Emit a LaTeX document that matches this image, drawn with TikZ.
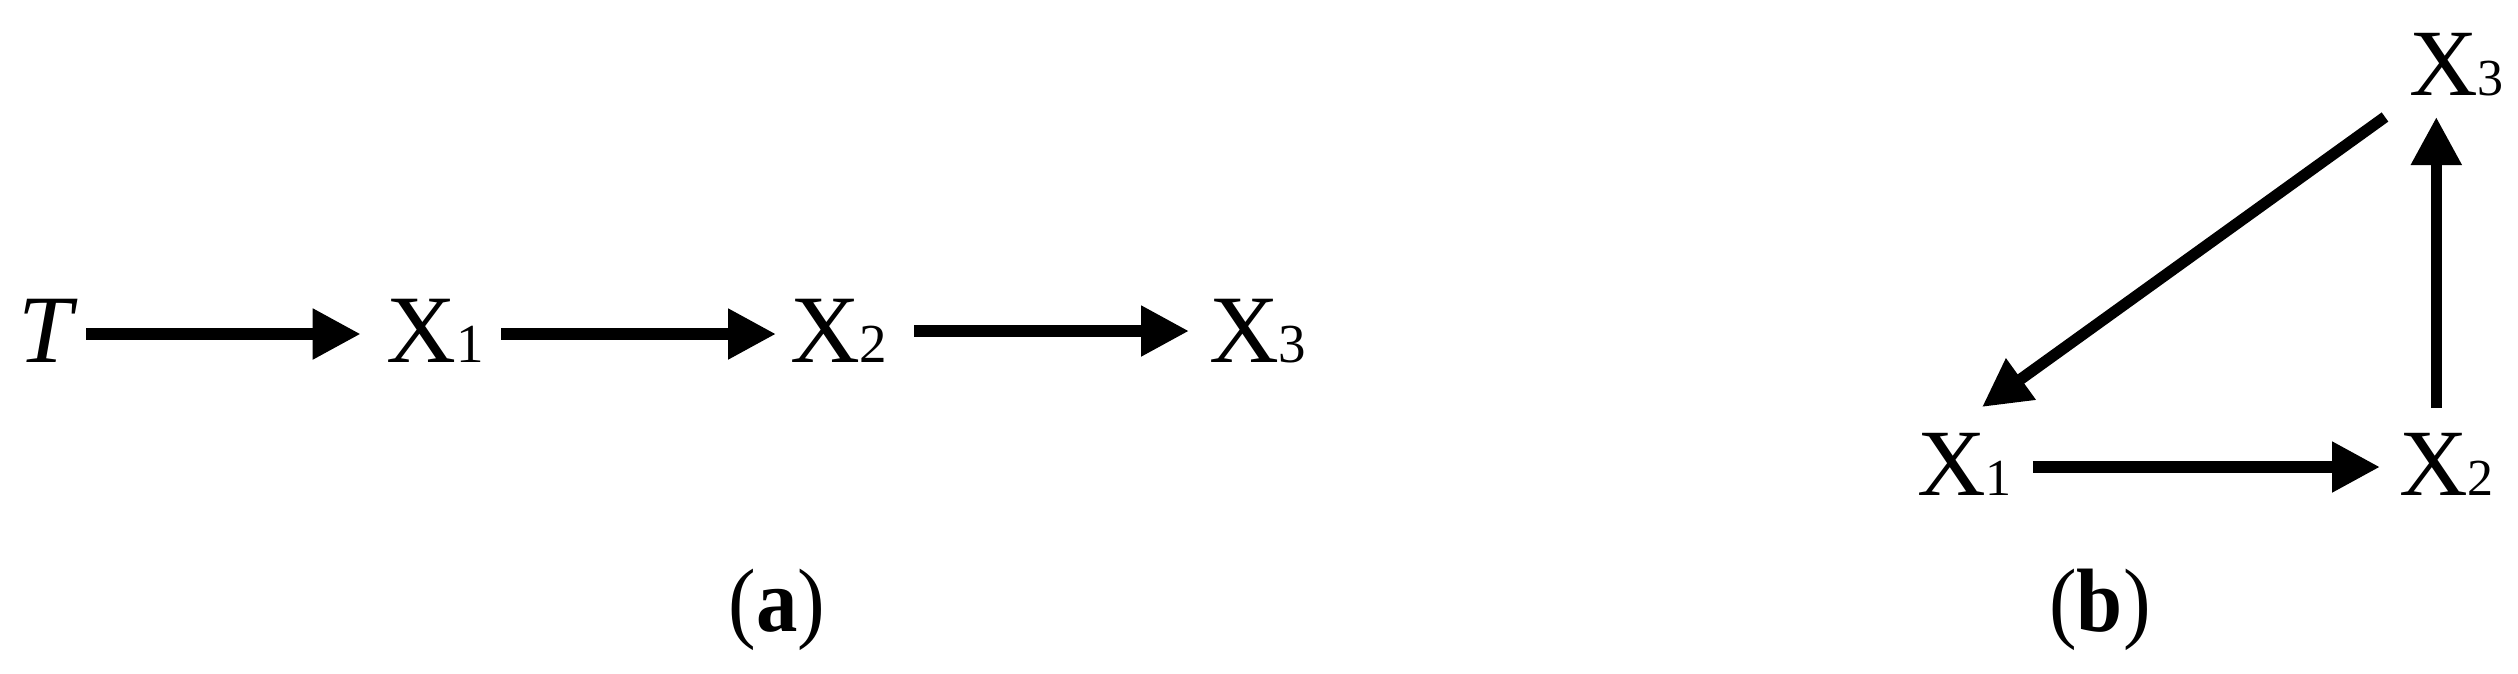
\documentclass[tikz,border=0pt]{standalone}
\usepackage{fontspec}
\setmainfont{Liberation Serif}
\usetikzlibrary{arrows.meta}
\newcommand\varA[1]{{\fontsize{29}{29}\selectfont X\fontsize{16.5}{16.5}\selectfont #1}}
\newcommand\varB[1]{{\fontsize{28.5}{28.5}\selectfont X\fontsize{15.6}{15.6}\selectfont #1}}
\newcommand\capt[1]{\scalebox{0.92}[1]{\fontsize{27}{27}\selectfont(\textbf{#1})}}
\begin{document}
\begin{tikzpicture}[x=0.3pt,y=-0.3pt,
  lbl/.style={inner sep=0pt,outer sep=0pt,anchor=base west},
  captn/.style={inner sep=0pt,outer sep=0pt,anchor=base},
  arrB/.style={line width=3.4pt,-{Triangle[length=14.4pt,width=14.4pt]}}]
\useasboundingbox (0,0) rectangle (2518,673);
% panel (a)
\node[lbl] (T) at (18.8,362) {\fontsize{29}{29}\selectfont\itshape T};
\node[lbl] (a1) at (386.7,362) {\varA{1}};
\node[lbl] (a2) at (790,362) {\varA{2}};
\node[lbl] (a3) at (1209,362) {\varA{3}};
\node[captn] (capa) at (777,631) {\capt{a}};
\draw[arrB] ([xshift=4.1pt,yshift=8.4pt]T.base east) -- ([xshift=-7.8pt,yshift=8.4pt]a1.base west);
\draw[arrB] ([xshift=5.1pt,yshift=8.4pt]a1.base east) -- ([xshift=-4.2pt,yshift=8.4pt]a2.base west);
\draw[arrB] ([xshift=8.1pt,yshift=9.3pt]a2.base east) -- ([xshift=-6pt,yshift=9.3pt]a3.base west);
% panel (b)
\node[lbl] (b1) at (1917,495) {\varB{1}};
\node[lbl] (b2) at (2399,495) {\varB{2}};
\node[lbl] (b3) at (2409,95) {\varB{3}};
\node[captn] (capb) at (2100,631) {\capt{b}};
\draw[arrB] ([xshift=6.4pt,yshift=8.4pt]b1.base east) -- ([xshift=-5.7pt,yshift=8.4pt]b2.base west);
\draw[arrB] ([xshift=-6pt,yshift=-93.9pt]b3.base) -- ([xshift=-6pt,yshift=-6.6pt]b3.base);
\draw[arrB] ([xshift=-7.2pt,yshift=-6.6pt]b3.base west) -- ([xshift=19.5pt,yshift=26.4pt]b1.base west);
\end{tikzpicture}
\end{document}
